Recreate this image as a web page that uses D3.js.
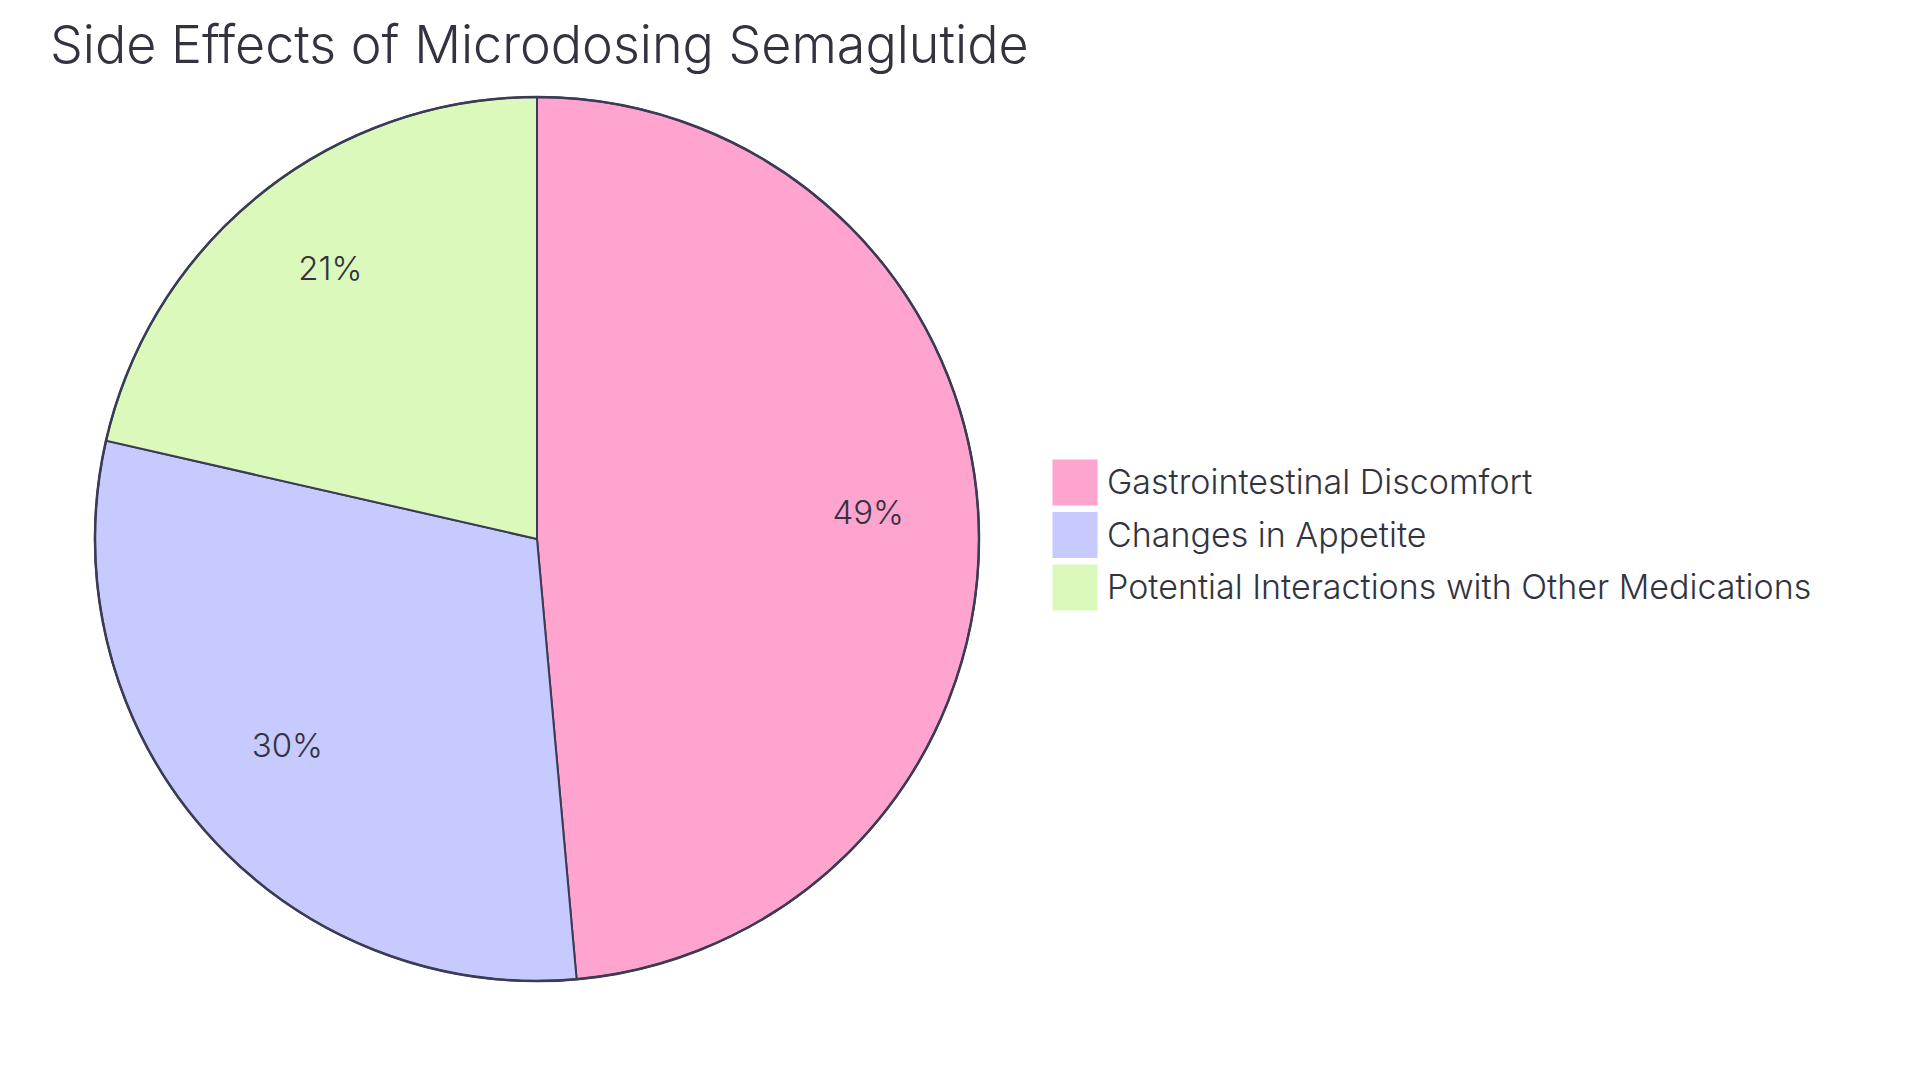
<!DOCTYPE html>
<html>
<head>
<meta charset="utf-8">
<script src="https://cdn.jsdelivr.net/npm/d3@7"></script>
<style>
  html, body { margin: 0; padding: 0; background: #ffffff; }
  svg { display: block; font-family: Inter, "Noto Sans", sans-serif; font-weight: 300; }
</style>
</head>
<body>
<div id="chart"></div>
<script>
const chartTitle = "Side Effects of Microdosing Semaglutide";
const categories = ["Gastrointestinal Discomfort", "Changes in Appetite", "Potential Interactions with Other Medications"];
const values = [34, 21, 15];
const colors = ["#FFA3CF", "#C7CAFF", "#DAF9BB"];

const width = 1920;
const height = 1083;
const cx = 537;
const cy = 539;
const radius = 442;
const strokeColor = "#3B3B55";
const textColor = "#333340";

const data = categories.map((c, i) => ({ label: c, value: values[i] }));
const total = d3.sum(data, d => d.value);

const svg = d3.select("#chart").append("svg")
  .attr("width", width)
  .attr("height", height)
  .style("background-color", "#ffffff");

// Title
svg.append("text")
  .attr("x", 50)
  .attr("y", 63)
  .attr("font-size", "52px")
  .attr("fill", textColor)
  .text(chartTitle);

const pie = d3.pie()
  .value(d => d.value)
  .sort(null);

const arc = d3.arc()
  .innerRadius(0)
  .outerRadius(radius);

// labels sit at 3/4 of the radius
const labelArc = d3.arc()
  .innerRadius(radius * 0.75)
  .outerRadius(radius * 0.75);

const g = svg.append("g")
  .attr("transform", `translate(${cx},${cy})`);

g.selectAll(".slice")
  .data(pie(data))
  .enter()
  .append("path")
  .attr("class", "slice")
  .attr("d", arc)
  .attr("fill", (d, i) => colors[i])
  .attr("stroke", strokeColor)
  .attr("stroke-width", 2);

// outer ring
g.append("circle")
  .attr("r", radius)
  .attr("fill", "none")
  .attr("stroke", strokeColor)
  .attr("stroke-width", 2.5);

g.selectAll(".slice-label")
  .data(pie(data))
  .enter()
  .append("text")
  .attr("class", "slice-label")
  .attr("transform", d => `translate(${labelArc.centroid(d)})`)
  .attr("text-anchor", "middle")
  .attr("font-size", "33px")
  .attr("fill", textColor)
  .text(d => Math.round(d.value / total * 100) + "%");

// Legend
const legend = svg.append("g")
  .attr("transform", "translate(1053, 460)");

const rowH = 52.5;
categories.forEach((c, i) => {
  const row = legend.append("g")
    .attr("transform", `translate(0, ${i * rowH})`);

  row.append("rect")
    .attr("width", 44)
    .attr("height", 45)
    .attr("fill", colors[i])
    .attr("stroke", colors[i]);

  row.append("text")
    .attr("x", 54)
    .attr("y", 34)
    .attr("font-size", "34px")
    .attr("fill", textColor)
    .text(c);
});
</script>
</body>
</html>
